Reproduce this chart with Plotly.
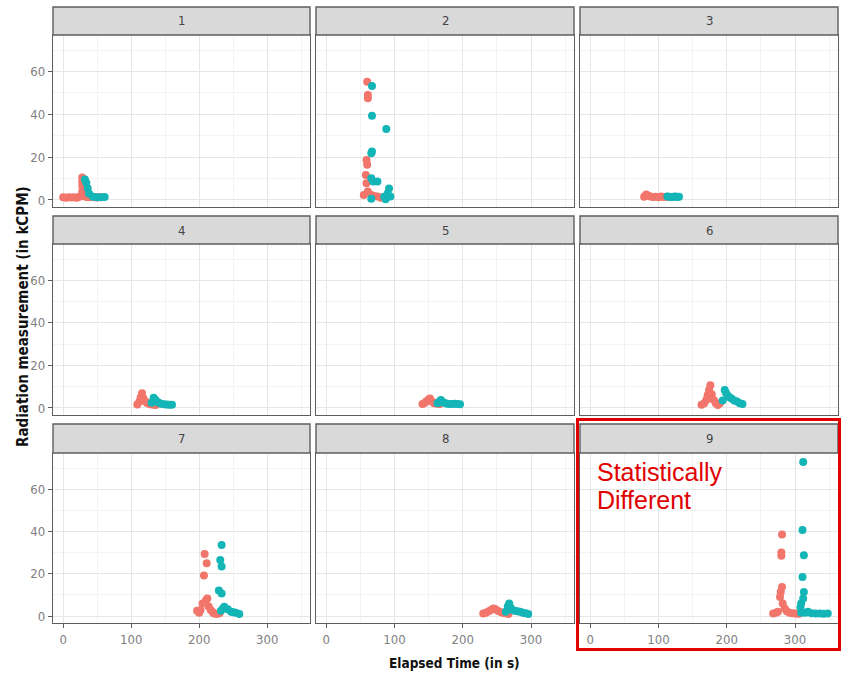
import plotly.graph_objects as go

# ---------------- data (elapsed time in s, radiation in kCPM) ----------------
panel_labels = ["1", "2", "3", "4", "5", "6", "7", "8", "9"]

red_t1 = [0, 4, 8, 12, 16, 20, 24, 27, 28, 28, 28, 28, 29, 31, 34, 38, 42, 46, 50, 54]
red_v1 = [1.2, 1.0, 1.3, 1.1, 1.2, 1.0, 1.5, 2.0, 4.0, 6.5, 8.5, 10.5, 3.0, 1.8, 1.4, 1.2, 1.5, 1.3, 1.1, 1.4]
teal_t1 = [32, 34, 36, 38, 44, 50, 56, 61]
teal_v1 = [9.5, 8.0, 5.5, 3.0, 1.5, 1.2, 1.3, 1.4]

red_t2 = [60, 61, 61, 59, 60, 58, 59, 55, 61, 66, 70, 75, 80, 84]
red_v2 = [55.3, 49.0, 47.5, 18.7, 16.4, 11.7, 7.8, 2.3, 4.0, 2.3, 1.8, 1.6, 1.0, 1.2]
teal_t2 = [67, 67, 88, 67, 66, 66, 69, 75, 66, 87, 92, 94, 90, 85]
teal_v2 = [53.3, 39.4, 33.2, 22.6, 21.8, 10.1, 8.6, 8.6, 0.5, 0.3, 5.4, 1.6, 3.0, 1.5]

red_t3 = [79, 82, 85, 88, 92, 96, 100, 104, 108, 112]
red_v3 = [1.5, 2.5, 2.0, 1.6, 1.4, 1.5, 1.3, 1.6, 1.4, 1.5]
teal_t3 = [113, 116, 119, 122, 125, 128, 130]
teal_v3 = [1.6, 1.5, 1.4, 1.5, 1.6, 1.4, 1.5]

red_t4 = [109, 112, 114, 116, 118, 121, 124, 128, 132, 136]
red_v4 = [1.6, 3.0, 5.0, 6.9, 4.5, 3.0, 2.2, 1.8, 1.5, 1.4]
teal_t4 = [130, 133, 136, 140, 144, 148, 152, 156, 160]
teal_v4 = [2.5, 4.8, 3.8, 2.6, 2.0, 1.7, 1.6, 1.5, 1.5]

red_t5 = [141, 144, 147, 150, 152, 155, 158, 162, 166]
red_v5 = [1.9, 2.4, 3.2, 4.0, 4.5, 3.0, 2.2, 2.0, 1.9]
teal_t5 = [163, 166, 168, 172, 176, 180, 184, 188, 192, 196]
teal_v5 = [2.2, 3.0, 3.7, 2.6, 2.1, 1.9, 1.9, 2.0, 1.9, 1.8]

red_t6 = [163, 167, 170, 172, 174, 176, 178, 181, 184, 187, 190]
red_v6 = [1.5, 2.2, 3.7, 6.0, 8.4, 10.7, 6.5, 3.7, 2.2, 1.4, 2.2]
teal_t6 = [194, 197, 199, 201, 204, 207, 211, 215, 219, 223]
teal_v6 = [3.5, 8.4, 7.0, 6.0, 5.0, 4.5, 3.5, 3.0, 2.2, 1.9]

red_t7 = [197, 200, 202, 205, 207, 208, 210, 211, 212, 214, 217, 220, 222, 226, 230]
red_v7 = [2.5, 1.5, 2.8, 5.9, 19.2, 29.3, 7.5, 24.9, 8.3, 4.5, 2.8, 1.8, 1.2, 1.0, 1.3]
teal_t7 = [229, 231, 233, 233, 233, 232, 235, 237, 242, 247, 250, 254, 259]
teal_v7 = [12.1, 26.5, 33.6, 23.4, 10.6, 2.5, 3.5, 4.4, 3.2, 2.0, 1.8, 1.6, 1.0]

red_t8 = [230, 234, 238, 242, 245, 248, 252, 256, 260, 264, 267]
red_v8 = [1.2, 1.5, 2.2, 3.0, 3.6, 3.2, 2.4, 1.8, 1.4, 1.2, 1.0]
teal_t8 = [263, 266, 268, 270, 272, 276, 280, 284, 288, 292, 296]
teal_v8 = [2.0, 4.5, 5.9, 4.0, 3.0, 2.5, 2.2, 2.0, 1.6, 1.3, 1.0]

red_t9 = [268, 272, 275, 278, 279, 280, 281, 280, 281, 282, 285, 288, 292, 296, 300, 304, 307]
red_v9 = [1.2, 1.5, 2.0, 9.0, 11.4, 30.0, 38.6, 28.5, 13.7, 5.9, 3.5, 2.2, 1.5, 1.3, 1.2, 1.1, 1.2]
teal_t9 = [308, 309, 309, 311, 312, 313, 311, 313, 312, 315, 319, 324, 330, 336, 342, 348]
teal_v9 = [4.0, 5.9, 1.5, 40.7, 72.9, 28.8, 18.4, 11.4, 8.3, 1.5, 2.0, 1.3, 1.2, 1.2, 1.1, 1.2]

x_ticks = [0, 100, 200, 300]
y_ticks = [0, 20, 40, 60]

red_t = [red_t1, red_t2, red_t3, red_t4, red_t5, red_t6, red_t7, red_t8, red_t9]
red_v = [red_v1, red_v2, red_v3, red_v4, red_v5, red_v6, red_v7, red_v8, red_v9]
teal_t = [teal_t1, teal_t2, teal_t3, teal_t4, teal_t5, teal_t6, teal_t7, teal_t8, teal_t9]
teal_v = [teal_v1, teal_v2, teal_v3, teal_v4, teal_v5, teal_v6, teal_v7, teal_v8, teal_v9]

# ---------------- geometry (screen pixels) ----------------
W, H = 845, 681
ML, MR, MT, MB = 53, 7, 7, 58
PW, PH = W - ML - MR, H - MT - MB

def fx(px):
    return (px - ML) / PW

def fy(py):
    return (H - MB - py) / PH

cols = [(53, 310), (316, 574), (580, 838)]
rows = [(35, 207), (244, 415), (453, 623)]
strips = [(7, 35), (216, 244), (424, 453)]

RED = "#F2756B"
TEAL = "#13B5B6"
LINE = "#5E5E5E"
NARROW = "Liberation Sans Narrow, Arial Narrow, DejaVu Sans Condensed, Liberation Sans, Arial"
XR = [-15, 363]
YR = [-3.3, 77.1]

fig = go.Figure()
shapes = []
annotations = []

for i in range(9):
    r, c = divmod(i, 3)
    n = i + 1
    xa = "x" if n == 1 else f"x{n}"
    ya = "y" if n == 1 else f"y{n}"
    fig.add_trace(go.Scatter(x=red_t[i], y=red_v[i], mode="markers",
                             marker=dict(color=RED, size=8), xaxis=xa, yaxis=ya,
                             showlegend=False, hoverinfo="skip"))
    fig.add_trace(go.Scatter(x=teal_t[i], y=teal_v[i], mode="markers",
                             marker=dict(color=TEAL, size=8), xaxis=xa, yaxis=ya,
                             showlegend=False, hoverinfo="skip"))
    bottom = (r == 2)
    left = (c == 0)
    xkey = "xaxis" if n == 1 else f"xaxis{n}"
    ykey = "yaxis" if n == 1 else f"yaxis{n}"
    fig.update_layout(**{
        xkey: dict(domain=[fx(cols[c][0]), fx(cols[c][1])], anchor=ya, range=XR,
                   tickmode="array", tickvals=x_ticks, ticktext=[str(v) for v in x_ticks],
                   showgrid=True, gridcolor="#E6E6E6", gridwidth=1,
                   minor=dict(tickmode="array", tickvals=[50, 150, 250, 350],
                              showgrid=True, gridcolor="#F3F3F3", gridwidth=0.7, ticks=""),
                   zeroline=False, showline=True, mirror=True, linecolor=LINE, linewidth=1.4,
                   ticks="outside" if bottom else "", ticklen=4, tickcolor=LINE,
                   showticklabels=bottom,
                   tickfont=dict(family=NARROW, size=13, color="#808080")),
        ykey: dict(domain=[fy(rows[r][1]), fy(rows[r][0])], anchor=xa, range=YR,
                   tickmode="array", tickvals=y_ticks, ticktext=[str(v) for v in y_ticks],
                   showgrid=True, gridcolor="#E6E6E6", gridwidth=1,
                   minor=dict(tickmode="array", tickvals=[10, 30, 50, 70],
                              showgrid=True, gridcolor="#F3F3F3", gridwidth=0.7, ticks=""),
                   zeroline=False, showline=True, mirror=True, linecolor=LINE, linewidth=1.4,
                   ticks="outside" if left else "", ticklen=4, tickcolor=LINE,
                   showticklabels=left,
                   tickfont=dict(family=NARROW, size=13, color="#808080")),
    })
    # strip
    shapes.append(dict(type="rect", xref="paper", yref="paper",
                       x0=fx(cols[c][0]), x1=fx(cols[c][1]),
                       y0=fy(strips[r][1]), y1=fy(strips[r][0]),
                       fillcolor="#D9D9D9", line=dict(color=LINE, width=1.4)))
    annotations.append(dict(text=panel_labels[i], xref="paper", yref="paper",
                            x=fx((cols[c][0] + cols[c][1]) / 2),
                            y=fy((strips[r][0] + strips[r][1]) / 2),
                            xanchor="center", yanchor="middle", showarrow=False,
                            font=dict(family=NARROW, size=13, color="#444444")))

# axis titles
annotations.append(dict(text="<b>Elapsed Time (in s)</b>", xref="paper", yref="paper",
                        x=fx(454), y=fy(663), xanchor="center", yanchor="middle",
                        showarrow=False, font=dict(family=NARROW, size=13.5, color="#111111")))
annotations.append(dict(text="<b>Radiation measurement (in kCPM)</b>", xref="paper", yref="paper",
                        x=fx(23), y=fy(317), xanchor="center", yanchor="middle", textangle=-90,
                        showarrow=False, font=dict(family=NARROW, size=15, color="#111111")))

# highlight for panel 9
shapes.append(dict(type="rect", xref="paper", yref="paper",
                   x0=fx(577.5), x1=fx(839.5), y0=fy(649.5), y1=fy(419.5),
                   line=dict(color="#E00000", width=3), fillcolor="rgba(0,0,0,0)"))
annotations.append(dict(text="Statistically", xref="paper", yref="paper",
                        x=fx(595), y=fy(472), xanchor="left", yanchor="middle", showarrow=False,
                        font=dict(family="Liberation Sans, Arial", size=25, color="#E00000")))
annotations.append(dict(text="Different", xref="paper", yref="paper",
                        x=fx(595), y=fy(500), xanchor="left", yanchor="middle", showarrow=False,
                        font=dict(family="Liberation Sans, Arial", size=25, color="#E00000")))

fig.update_layout(width=W, height=H, margin=dict(l=ML, r=MR, t=MT, b=MB, pad=0),
                  paper_bgcolor="white", plot_bgcolor="white",
                  shapes=shapes, annotations=annotations, showlegend=False)

fig.write_html("out.html", config={"displayModeBar": False},
               post_script="document.body.style.margin='0';document.body.style.overflow='hidden';")
